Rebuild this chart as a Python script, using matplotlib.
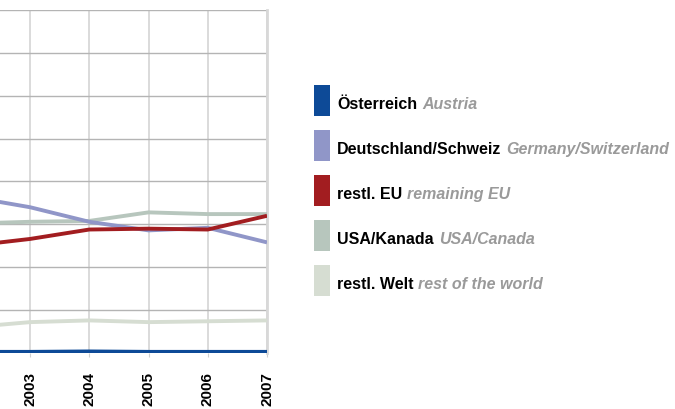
import matplotlib
matplotlib.use("Agg")
import matplotlib.pyplot as plt
from matplotlib.patches import Rectangle

years = [2002, 2003, 2004, 2005, 2006, 2007]
austria = [0.1, 0.1, 0.15, 0.1, 0.1, 0.1]
germany_switzerland = [18.2, 17.0, 15.3, 14.3, 14.6, 12.9]
remaining_eu = [12.5, 13.3, 14.4, 14.5, 14.4, 16.0]
usa_canada = [15.1, 15.3, 15.4, 16.4, 16.2, 16.2]
rest_of_world = [3.0, 3.6, 3.8, 3.6, 3.7, 3.8]

series_de = ["Österreich", "Deutschland/Schweiz", "restl. EU", "USA/Kanada", "restl. Welt"]
series_en = ["Austria", "Germany/Switzerland", "remaining EU", "USA/Canada", "rest of the world"]
colors = ["#0d4a97", "#9096c8", "#a21d20", "#b7c6bd", "#d6ddd2"]
values = [austria, germany_switzerland, remaining_eu, usa_canada, rest_of_world]

W, H = 675, 409
fig = plt.figure(figsize=(W / 100, H / 100), dpi=100)
plt.rcParams['font.family'] = ['Liberation Sans', 'DejaVu Sans']

# axes: left edge at pixel 0, right at 267, top at 10, bottom at 353
ax = fig.add_axes([0 / W, 1 - 353 / H, 267 / W, (353 - 10) / H])
x0 = 2003 - 30 / 59.2
ax.set_xlim(x0, 2007)
ax.set_ylim(0, 40)
ax.set_yticks(range(0, 41, 5))
ax.set_xticks(years[1:])
ax.set_xticklabels([str(y) for y in years[1:]], rotation=90, fontweight='bold', fontsize=11)
ax.tick_params(axis='x', length=3, color='#d0d0d0', pad=11)
ax.tick_params(axis='y', left=False, labelleft=False)
ax.grid(axis='y', color='#b4b4b4', linewidth=1.0)
ax.grid(axis='x', color='#d4d4d4', linewidth=1.2)
ax.set_axisbelow(True)
for s in ['left', 'top', 'bottom']:
    ax.spines[s].set_visible(False)
ax.spines['right'].set_color('#d8d8d8')
ax.spines['right'].set_linewidth(2)

order = [4, 3, 1, 2, 0]
for i in order:
    ax.plot(years, values[i], color=colors[i], linewidth=3.2 if i == 0 else 2.8,
            solid_capstyle='butt', clip_on=True, zorder=3)

# legend
fig.canvas.draw()
renderer = fig.canvas.get_renderer()
for k in range(5):
    top = 85 + 45 * k
    rect = Rectangle((314 / W, 1 - (top + 31) / H), 16 / W, 31 / H,
                     transform=fig.transFigure, color=colors[k], lw=0)
    fig.patches.append(rect)
    ty = 1 - (top + 19.5) / H
    t1 = fig.text(337 / W, ty, series_de[k], fontsize=11.5, fontweight='bold',
                  color='black', va='center', ha='left')
    bb = t1.get_window_extent(renderer)
    fig.text((bb.x1 + 5) / W, ty, series_en[k], fontsize=11.5, fontweight='bold',
             fontstyle='italic', color='#9a9a9a', va='center', ha='left')

fig.savefig("out.png", dpi=100)
